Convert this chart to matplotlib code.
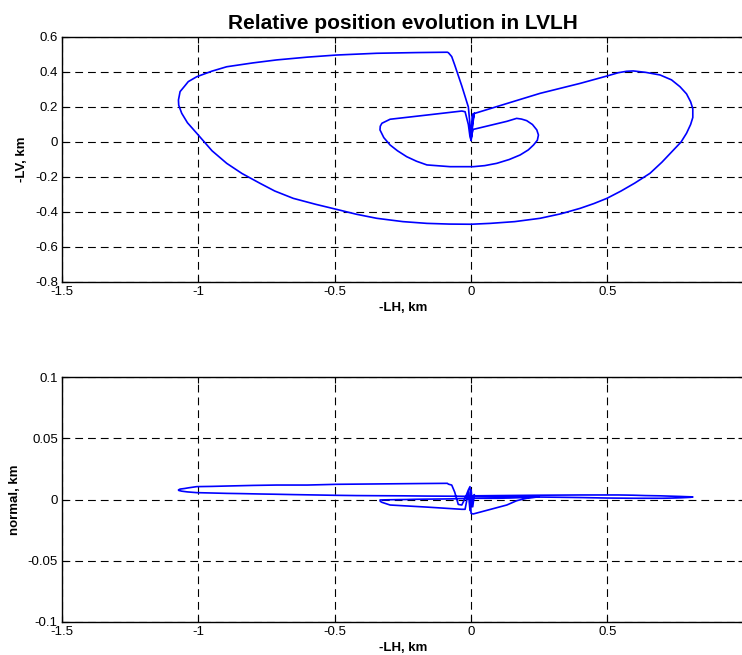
import matplotlib
matplotlib.use("Agg")
import matplotlib.pyplot as plt

# trajectory: -LH (km), -LV (km), normal (km)
lh = [0.000, 0.004, 0.006, 0.100, 0.253, 0.400, 0.498, 0.540, 0.570, 0.595,
      0.640, 0.693, 0.735, 0.766, 0.790, 0.805, 0.813, 0.813, 0.805, 0.790,
      0.770, 0.742, 0.700, 0.656, 0.600, 0.550, 0.498, 0.450, 0.400, 0.330,
      0.253, 0.160, 0.070, 0.000, -0.080, -0.162, -0.250, -0.346, -0.420, -0.493,
      -0.570, -0.652, -0.720, -0.774, -0.840, -0.896, -0.950, -1.006, -1.040, -1.061,
      -1.072, -1.073, -1.067, -1.050, -1.037, -1.006, -0.950, -0.896, -0.800, -0.713,
      -0.600, -0.493, -0.346, -0.200, -0.087, -0.083, -0.071, -0.060, -0.047, -0.034,
      -0.022, -0.010, -0.004, 0.000, 0.002, 0.008, 0.131, 0.167, 0.185, 0.204,
      0.225, 0.241, 0.247, 0.243, 0.229, 0.210, 0.180, 0.140, 0.094, 0.050,
      0.008, -0.077, -0.162, -0.200, -0.236, -0.270, -0.297, -0.320, -0.334, -0.333,
      -0.327, -0.297, -0.162, -0.034, -0.022, -0.010, -0.004, 0.000, 0.006, 0.012,
      0.006, 0.002, 0.000]
lv = [0.010, 0.150, 0.160, 0.205, 0.278, 0.335, 0.377, 0.396, 0.404, 0.406,
      0.398, 0.383, 0.355, 0.316, 0.275, 0.230, 0.190, 0.140, 0.100, 0.050,
      0.000, -0.046, -0.115, -0.179, -0.235, -0.280, -0.322, -0.352, -0.379, -0.410,
      -0.436, -0.455, -0.465, -0.470, -0.469, -0.465, -0.455, -0.436, -0.413, -0.385,
      -0.356, -0.322, -0.280, -0.236, -0.180, -0.122, -0.050, 0.050, 0.110, 0.164,
      0.210, 0.240, 0.288, 0.320, 0.345, 0.373, 0.405, 0.430, 0.452, 0.469,
      0.485, 0.497, 0.507, 0.511, 0.513, 0.510, 0.488, 0.440, 0.380, 0.320,
      0.260, 0.200, 0.100, 0.020, 0.040, 0.072, 0.118, 0.135, 0.131, 0.122,
      0.100, 0.069, 0.040, 0.010, -0.017, -0.045, -0.074, -0.100, -0.122, -0.135,
      -0.141, -0.141, -0.131, -0.110, -0.084, -0.050, -0.017, 0.025, 0.069, 0.090,
      0.107, 0.130, 0.154, 0.177, 0.173, 0.100, 0.030, 0.010, 0.100, 0.165,
      0.120, 0.040, 0.010]
normal = [0.0000, 0.0020, 0.0030, 0.0032, 0.0035, 0.0037, 0.0037, 0.0037, 0.0036, 0.0035,
          0.0032, 0.0030, 0.0027, 0.0025, 0.0023, 0.0022, 0.0021, 0.0020, 0.0018, 0.0016,
          0.0014, 0.0012, 0.0010, 0.0010, 0.0010, 0.0011, 0.0012, 0.0014, 0.0016, 0.0018,
          0.0020, 0.0022, 0.0024, 0.0026, 0.0027, 0.0028, 0.0030, 0.0031, 0.0032, 0.0034,
          0.0037, 0.0040, 0.0043, 0.0045, 0.0048, 0.0050, 0.0053, 0.0056, 0.0062, 0.0068,
          0.0074, 0.0078, 0.0085, 0.0090, 0.0095, 0.0105, 0.0107, 0.0110, 0.0115, 0.0118,
          0.0118, 0.0124, 0.0127, 0.0130, 0.0132, 0.0125, 0.0118, 0.0060, -0.0040, -0.0045,
          0.0010, 0.0078, 0.0105, -0.0113, -0.0115, -0.0118, -0.0045, -0.0010, 0.0000, 0.0010,
          0.0015, 0.0020, 0.0020, 0.0020, 0.0020, 0.0018, 0.0015, 0.0012, 0.0010, 0.0010,
          0.0010, 0.0005, 0.0003, 0.0002, 0.0000, -0.0001, -0.0002, -0.0003, -0.0004, -0.0015,
          -0.0023, -0.0045, -0.0062, -0.0080, -0.0080, 0.0060, -0.0090, 0.0080, -0.0060, 0.0040,
          0.0010, 0.0020, 0.0010]

xticks = [-1.5, -1, -0.5, 0, 0.5]
xticklabels = ["-1.5", "-1", "-0.5", "0", "0.5"]
yticks_top = [-0.8, -0.6, -0.4, -0.2, 0, 0.2, 0.4, 0.6]
yticklabels_top = ["-0.8", "-0.6", "-0.4", "-0.2", "0", "0.2", "0.4", "0.6"]
yticks_bot = [-0.1, -0.05, 0, 0.05, 0.1]
yticklabels_bot = ["-0.1", "-0.05", "0", "0.05", "0.1"]

plt.rcParams['font.family'] = ['Liberation Sans', 'DejaVu Sans']

fig = plt.figure(figsize=(7.42, 6.55), dpi=100)
W, H = 742.0, 655.0
ax_left = 62 / W
ax_w = 681.8 / W
ax1 = fig.add_axes([ax_left, (H - 282) / H, ax_w, 245 / H])
ax2 = fig.add_axes([ax_left, (H - 622) / H, ax_w, 245 / H])

def style(ax, yticks, ylabels, ylabel):
    ax.set_xlim(-1.5, 1.0)
    ax.set_xticks(xticks)
    ax.set_xticklabels(xticklabels)
    ax.set_yticks(yticks)
    ax.set_yticklabels(ylabels)
    ax.set_ylim(yticks[0], yticks[-1])
    ax.grid(True, color='black', linestyle=(0, (7, 4.5)), linewidth=0.8)
    ax.tick_params(direction='in', length=4, width=0.8, labelsize=9.5,
                   top=True, right=True, pad=3)
    for s in ax.spines.values():
        s.set_linewidth(1.0)
        s.set_color('black')
    ax.set_xlabel('-LH, km', fontsize=9.5, fontweight='bold', labelpad=3)
    ax.set_ylabel(ylabel, fontsize=9.5, fontweight='bold', labelpad=5)

ax1.plot(lh, lv, color=(0, 0, 1), linewidth=1.2)
style(ax1, yticks_top, yticklabels_top, '-LV, km')
ax1.set_title('Relative position evolution in LVLH', fontsize=15,
              fontweight='bold', pad=6)

ax2.plot(lh, normal, color=(0, 0, 1), linewidth=1.2)
style(ax2, yticks_bot, yticklabels_bot, 'normal, km')

fig.savefig('out.png', dpi=100)
